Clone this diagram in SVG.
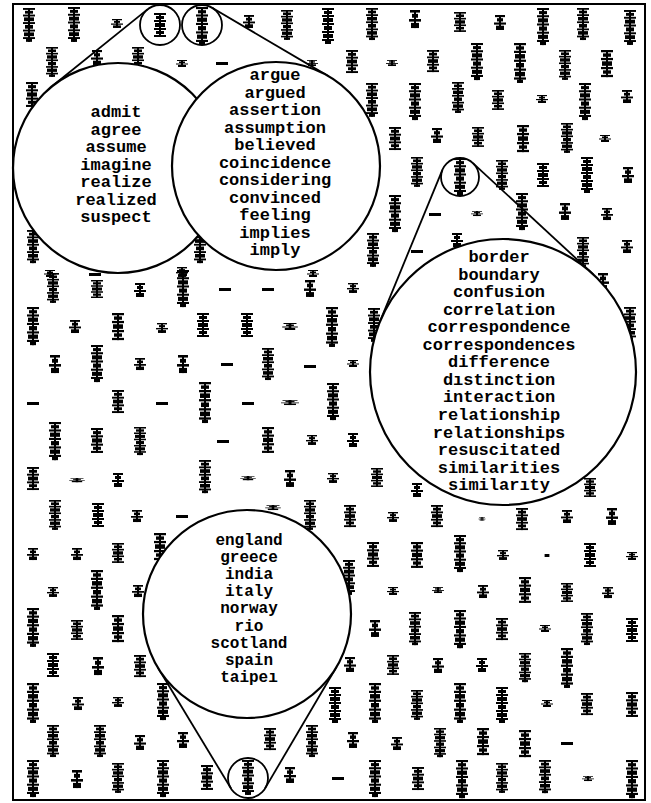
<svg xmlns="http://www.w3.org/2000/svg" width="651" height="803" viewBox="0 0 651 803">
<style>
.frame{fill:#fff;stroke:#000;stroke-width:2}
.big{fill:#fff;stroke:#000;stroke-width:2.2}
.small{fill:none;stroke:#000;stroke-width:1.8}
.conn line{stroke:#000;stroke-width:1.8}
.lbl{font-family:"Liberation Mono","Courier New",monospace;font-weight:bold;font-size:17px;fill:#000;text-anchor:middle}
.lbl2{font-size:16px}
.bg{fill:#000}
</style>
<defs>
<g id="gT"><rect x="-6" y="0" width="12" height="2"/><rect x="-4" y="3" width="8" height="3"/><rect x="-6" y="7" width="12" height="2"/><rect x="-5" y="10" width="10" height="4"/><rect x="-6" y="15" width="12" height="2"/><rect x="-4" y="18" width="8" height="4"/><rect x="-6" y="23" width="12" height="2"/><rect x="-5" y="26" width="10" height="4"/><rect x="-6" y="31" width="12" height="2"/><rect x="-3" y="33" width="6" height="3"/><rect x="-1" y="0" width="2" height="36"/></g>
<g id="gM"><rect x="-6" y="0" width="12" height="2"/><rect x="-4" y="3" width="8" height="3"/><rect x="-6" y="7" width="12" height="2"/><rect x="-5" y="10" width="10" height="4"/><rect x="-6" y="15" width="12" height="2"/><rect x="-4" y="18" width="8" height="3"/><rect x="-6" y="22" width="12" height="2"/><rect x="-1" y="0" width="2" height="24"/></g>
<g id="gS"><rect x="-5" y="0" width="10" height="2"/><rect x="-3" y="3" width="6" height="3"/><rect x="-6" y="7" width="12" height="2"/><rect x="-4" y="10" width="8" height="4"/><rect x="-1" y="0" width="2" height="14"/></g>
<g id="gD"><rect x="-6" y="-1" width="12" height="3"/></g>
</defs>
<rect class="frame" x="13" y="4" width="632" height="796"/>
<g id="background" class="bg">
<use href="#gT" transform="translate(29,8) scale(1,0.94)"/>
<use href="#gT" transform="translate(74,7) scale(1,0.97)"/>
<use href="#gS" transform="translate(117,19) scale(1,0.64)"/>
<use href="#gM" transform="translate(160,13) scale(1,1)"/>
<use href="#gT" transform="translate(202,7) scale(1,1.06)"/>
<use href="#gS" transform="translate(249,15) scale(1,0.93)"/>
<use href="#gT" transform="translate(287,10) scale(1,0.83)"/>
<use href="#gT" transform="translate(328,8) scale(1,1)"/>
<use href="#gT" transform="translate(372,8) scale(1,0.89)"/>
<use href="#gS" transform="translate(415,10) scale(1,1.29)"/>
<use href="#gM" transform="translate(460,12) scale(1,0.83)"/>
<use href="#gS" transform="translate(500,15) scale(1,1.07)"/>
<use href="#gT" transform="translate(543,8) scale(1,1.03)"/>
<use href="#gT" transform="translate(583,8) scale(1,0.89)"/>
<use href="#gT" transform="translate(630,10) scale(1,0.97)"/>
<use href="#gT" transform="translate(52,47) scale(1,0.83)"/>
<use href="#gS" transform="translate(97,50) scale(1,1.07)"/>
<use href="#gM" transform="translate(138,47) scale(1,0.83)"/>
<use href="#gS" transform="translate(182,60) scale(1,0.5)"/>
<use href="#gD" transform="translate(222,63)"/>
<use href="#gS" transform="translate(312,60) scale(1,0.43)"/>
<use href="#gM" transform="translate(352,50) scale(1,0.96)"/>
<use href="#gS" transform="translate(392,60) scale(1,0.43)"/>
<use href="#gM" transform="translate(433,50) scale(1,0.92)"/>
<use href="#gT" transform="translate(477,43) scale(1,1.03)"/>
<use href="#gT" transform="translate(520,43) scale(1,1.11)"/>
<use href="#gT" transform="translate(565,50) scale(1,0.83)"/>
<use href="#gM" transform="translate(607,50) scale(1,1.13)"/>
<use href="#gM" transform="translate(32,82) scale(1,1.04)"/>
<use href="#gT" transform="translate(372,83) scale(1,0.94)"/>
<use href="#gT" transform="translate(415,83) scale(1,1.03)"/>
<use href="#gT" transform="translate(458,82) scale(1,0.86)"/>
<use href="#gM" transform="translate(498,90) scale(1,0.83)"/>
<use href="#gS" transform="translate(542,95) scale(1,0.57)"/>
<use href="#gT" transform="translate(585,83) scale(1,1.03)"/>
<use href="#gS" transform="translate(627,90) scale(1,0.93)"/>
<use href="#gM" transform="translate(395,127) scale(1,0.96)"/>
<use href="#gS" transform="translate(437,128) scale(1,1.07)"/>
<use href="#gM" transform="translate(478,127) scale(1,0.83)"/>
<use href="#gM" transform="translate(523,125) scale(1,1.13)"/>
<use href="#gT" transform="translate(567,123) scale(1,0.83)"/>
<use href="#gS" transform="translate(605,135) scale(1,0.5)"/>
<use href="#gT" transform="translate(417,157) scale(1,0.83)"/>
<use href="#gT" transform="translate(460,158) scale(1,1.03)"/>
<use href="#gT" transform="translate(502,160) scale(1,0.83)"/>
<use href="#gM" transform="translate(543,163) scale(1,1)"/>
<use href="#gT" transform="translate(587,157) scale(1,1)"/>
<use href="#gS" transform="translate(628,167) scale(1,1.14)"/>
<use href="#gT" transform="translate(395,195) scale(1,1.03)"/>
<use href="#gD" transform="translate(435,214)"/>
<use href="#gS" transform="translate(477,211) scale(1,0.36)"/>
<use href="#gT" transform="translate(522,193) scale(1,1.03)"/>
<use href="#gS" transform="translate(565,203) scale(1,1.21)"/>
<use href="#gS" transform="translate(607,208) scale(1,0.86)"/>
<use href="#gT" transform="translate(33,230) scale(1,0.92)"/>
<use href="#gT" transform="translate(200,230) scale(1,0.92)"/>
<use href="#gT" transform="translate(373,233) scale(1,0.94)"/>
<use href="#gD" transform="translate(417,251)"/>
<use href="#gS" transform="translate(457,233) scale(1,1)"/>
<use href="#gS" transform="translate(500,240) scale(1,0.5)"/>
<use href="#gT" transform="translate(583,237) scale(1,0.83)"/>
<use href="#gS" transform="translate(627,240) scale(1,0.93)"/>
<use href="#gS" transform="translate(182,267) scale(1,0.71)"/>
<use href="#gS" transform="translate(50,270) scale(1,0.5)"/>
<use href="#gD" transform="translate(95,274)"/>
<use href="#gS" transform="translate(313,270) scale(1,0.5)"/>
<use href="#gT" transform="translate(53,273) scale(1,0.83)"/>
<use href="#gM" transform="translate(97,280) scale(1,0.75)"/>
<use href="#gS" transform="translate(140,283) scale(1,1)"/>
<use href="#gT" transform="translate(183,270) scale(1,1.03)"/>
<use href="#gD" transform="translate(225,289)"/>
<use href="#gD" transform="translate(268,289)"/>
<use href="#gS" transform="translate(310,280) scale(1,1.21)"/>
<use href="#gS" transform="translate(353,283) scale(1,0.71)"/>
<use href="#gS" transform="translate(603,273) scale(1,1.21)"/>
<use href="#gT" transform="translate(630,307) scale(1,0.92)"/>
<use href="#gT" transform="translate(374,308) scale(1,0.94)"/>
<use href="#gT" transform="translate(33,307) scale(1,1.06)"/>
<use href="#gS" transform="translate(75,320) scale(1,0.93)"/>
<use href="#gM" transform="translate(118,313) scale(1,1.13)"/>
<use href="#gS" transform="translate(162,323) scale(1,0.71)"/>
<use href="#gM" transform="translate(203,313) scale(1,1)"/>
<use href="#gM" transform="translate(247,313) scale(1,1)"/>
<use href="#gS" transform="translate(290,323) scale(1.3,0.5)"/>
<use href="#gT" transform="translate(332,307) scale(1,1.11)"/>
<use href="#gS" transform="translate(55,355) scale(1,1.29)"/>
<use href="#gT" transform="translate(97,345) scale(1,1.03)"/>
<use href="#gS" transform="translate(140,358) scale(1,0.86)"/>
<use href="#gS" transform="translate(183,355) scale(1,1.29)"/>
<use href="#gD" transform="translate(227,364)"/>
<use href="#gT" transform="translate(268,348) scale(1,0.89)"/>
<use href="#gD" transform="translate(310,366)"/>
<use href="#gS" transform="translate(353,360) scale(1,0.5)"/>
<use href="#gD" transform="translate(33,403)"/>
<use href="#gM" transform="translate(118,390) scale(1,0.96)"/>
<use href="#gD" transform="translate(162,403)"/>
<use href="#gT" transform="translate(205,382) scale(1,1.14)"/>
<use href="#gD" transform="translate(248,403)"/>
<use href="#gS" transform="translate(290,400) scale(1.5,0.36)"/>
<use href="#gT" transform="translate(333,383) scale(1,1.03)"/>
<use href="#gT" transform="translate(55,422) scale(1,1.06)"/>
<use href="#gM" transform="translate(97,428) scale(1,1.04)"/>
<use href="#gT" transform="translate(140,427) scale(1,0.78)"/>
<use href="#gD" transform="translate(223,441)"/>
<use href="#gM" transform="translate(268,427) scale(1,1.08)"/>
<use href="#gS" transform="translate(312,435) scale(1,0.71)"/>
<use href="#gS" transform="translate(353,433) scale(1,1)"/>
<use href="#gM" transform="translate(33,467) scale(1,0.96)"/>
<use href="#gS" transform="translate(77,478) scale(1.3,0.3)"/>
<use href="#gS" transform="translate(118,473) scale(1,1)"/>
<use href="#gT" transform="translate(205,460) scale(1,0.92)"/>
<use href="#gS" transform="translate(248,476) scale(1.3,0.3)"/>
<use href="#gS" transform="translate(290,470) scale(1,1.21)"/>
<use href="#gS" transform="translate(333,473) scale(1,0.71)"/>
<use href="#gM" transform="translate(377,468) scale(1,0.79)"/>
<use href="#gS" transform="translate(417,483) scale(1,1)"/>
<use href="#gM" transform="translate(590,478) scale(1,0.79)"/>
<use href="#gT" transform="translate(55,500) scale(1,0.83)"/>
<use href="#gM" transform="translate(98,503) scale(1,1)"/>
<use href="#gS" transform="translate(137,510) scale(1,0.86)"/>
<use href="#gD" transform="translate(182,516)"/>
<use href="#gS" transform="translate(273,505) scale(1.3,0.36)"/>
<use href="#gT" transform="translate(310,500) scale(1,0.83)"/>
<use href="#gM" transform="translate(350,505) scale(1,0.92)"/>
<use href="#gS" transform="translate(393,512) scale(1,0.71)"/>
<use href="#gM" transform="translate(437,505) scale(1,0.92)"/>
<use href="#gS" transform="translate(482,517) scale(0.6,0.25)"/>
<use href="#gM" transform="translate(522,508) scale(1,0.92)"/>
<use href="#gS" transform="translate(567,510) scale(1,0.93)"/>
<use href="#gS" transform="translate(612,508) scale(1,1.21)"/>
<use href="#gS" transform="translate(33,548) scale(1,0.86)"/>
<use href="#gS" transform="translate(77,548) scale(1,0.86)"/>
<use href="#gM" transform="translate(118,543) scale(1,0.83)"/>
<use href="#gM" transform="translate(160,533) scale(1,1.13)"/>
<use href="#gM" transform="translate(373,542) scale(1,1.04)"/>
<use href="#gM" transform="translate(417,542) scale(1,1.08)"/>
<use href="#gT" transform="translate(460,535) scale(1,1.03)"/>
<use href="#gS" transform="translate(503,550) scale(1,0.71)"/>
<use href="#gD" transform="translate(547,555) scale(0.4,1)"/>
<use href="#gM" transform="translate(590,543) scale(1,1)"/>
<use href="#gS" transform="translate(632,552) scale(1,0.57)"/>
<use href="#gT" transform="translate(349,560) scale(1,0.97)"/>
<use href="#gS" transform="translate(53,587) scale(1,0.71)"/>
<use href="#gT" transform="translate(97,570) scale(1,1.11)"/>
<use href="#gS" transform="translate(138,585) scale(1,0.86)"/>
<use href="#gS" transform="translate(393,587) scale(1,0.57)"/>
<use href="#gS" transform="translate(438,587) scale(1,0.43)"/>
<use href="#gS" transform="translate(483,585) scale(1,0.93)"/>
<use href="#gM" transform="translate(525,577) scale(1,1.08)"/>
<use href="#gM" transform="translate(567,583) scale(1,0.79)"/>
<use href="#gS" transform="translate(608,587) scale(1,0.79)"/>
<use href="#gT" transform="translate(33,608) scale(1,1.08)"/>
<use href="#gM" transform="translate(77,620) scale(1,0.83)"/>
<use href="#gM" transform="translate(118,615) scale(1,1.13)"/>
<use href="#gS" transform="translate(375,620) scale(1,1.21)"/>
<use href="#gT" transform="translate(415,612) scale(1,0.92)"/>
<use href="#gT" transform="translate(460,610) scale(1,1.06)"/>
<use href="#gM" transform="translate(502,618) scale(1,0.92)"/>
<use href="#gS" transform="translate(545,625) scale(1,0.5)"/>
<use href="#gT" transform="translate(587,613) scale(1,0.89)"/>
<use href="#gM" transform="translate(632,618) scale(1,1)"/>
<use href="#gM" transform="translate(53,653) scale(1,1)"/>
<use href="#gS" transform="translate(98,657) scale(1,1.29)"/>
<use href="#gM" transform="translate(140,655) scale(1,0.92)"/>
<use href="#gS" transform="translate(350,657) scale(1,1.07)"/>
<use href="#gM" transform="translate(393,655) scale(1,0.83)"/>
<use href="#gS" transform="translate(438,658) scale(1,1.07)"/>
<use href="#gS" transform="translate(482,658) scale(1,1)"/>
<use href="#gT" transform="translate(525,653) scale(1,0.81)"/>
<use href="#gT" transform="translate(567,648) scale(1,1.11)"/>
<use href="#gT" transform="translate(33,683) scale(1,1.11)"/>
<use href="#gS" transform="translate(78,697) scale(1,0.93)"/>
<use href="#gS" transform="translate(118,697) scale(1,0.71)"/>
<use href="#gT" transform="translate(163,683) scale(1,1.03)"/>
<use href="#gT" transform="translate(335,687) scale(1,1)"/>
<use href="#gT" transform="translate(375,683) scale(1,1.11)"/>
<use href="#gT" transform="translate(417,690) scale(1,0.83)"/>
<use href="#gT" transform="translate(460,683) scale(1,1.11)"/>
<use href="#gT" transform="translate(502,687) scale(1,1)"/>
<use href="#gS" transform="translate(547,700) scale(1,0.5)"/>
<use href="#gM" transform="translate(587,693) scale(1,0.92)"/>
<use href="#gM" transform="translate(632,692) scale(1,1.04)"/>
<use href="#gT" transform="translate(53,725) scale(1,0.89)"/>
<use href="#gT" transform="translate(100,725) scale(1,0.89)"/>
<use href="#gS" transform="translate(140,735) scale(1,1.07)"/>
<use href="#gS" transform="translate(183,732) scale(1,1.14)"/>
<use href="#gM" transform="translate(270,728) scale(1,0.92)"/>
<use href="#gT" transform="translate(312,725) scale(1,0.89)"/>
<use href="#gS" transform="translate(353,732) scale(1,1.14)"/>
<use href="#gS" transform="translate(397,737) scale(1,0.93)"/>
<use href="#gT" transform="translate(440,728) scale(1,0.81)"/>
<use href="#gM" transform="translate(483,728) scale(1,1.13)"/>
<use href="#gM" transform="translate(525,730) scale(1,1.13)"/>
<use href="#gD" transform="translate(567,743)"/>
<use href="#gT" transform="translate(33,760) scale(1,1.03)"/>
<use href="#gS" transform="translate(77,770) scale(1,1.29)"/>
<use href="#gT" transform="translate(118,763) scale(1,0.83)"/>
<use href="#gT" transform="translate(163,760) scale(1,1.03)"/>
<use href="#gM" transform="translate(207,765) scale(1,1.04)"/>
<use href="#gT" transform="translate(248,760) scale(1,0.97)"/>
<use href="#gS" transform="translate(290,767) scale(1,1.14)"/>
<use href="#gD" transform="translate(338,778)"/>
<use href="#gT" transform="translate(375,760) scale(1,1.03)"/>
<use href="#gM" transform="translate(418,767) scale(1,0.96)"/>
<use href="#gT" transform="translate(462,760) scale(1,1.06)"/>
<use href="#gT" transform="translate(502,763) scale(1,0.83)"/>
<use href="#gT" transform="translate(545,760) scale(1,0.92)"/>
<use href="#gS" transform="translate(588,776) scale(1,0.36)"/>
<use href="#gT" transform="translate(632,760) scale(1,1.06)"/>
</g>
<g id="connectors" class="conn">
<line x1="147.5" y1="9.4" x2="52.1" y2="86.2"/>
<line x1="212.1" y1="7.8" x2="328.7" y2="76.4"/>
<line x1="442.4" y1="169.8" x2="380.0" y2="321.3"/>
<line x1="472.9" y1="163.1" x2="593.3" y2="274.4"/>
<line x1="230.9" y1="788.3" x2="158.0" y2="667.8"/>
<line x1="265.2" y1="788.1" x2="336.6" y2="666.7"/>
</g>
<g id="node-small-1"><circle class="small" cx="160" cy="25" r="20"/></g>
<g id="node-small-2"><circle class="small" cx="202" cy="25" r="20"/></g>
<g id="node-small-3"><circle class="small" cx="460" cy="177" r="19"/></g>
<g id="node-small-4"><circle class="small" cx="248" cy="778" r="20"/></g>
<g id="node-admit">
<circle class="big" cx="118" cy="168" r="105"/>
<text class="lbl" x="116" y="117">admit</text>
<text class="lbl" x="116" y="134.5">agree</text>
<text class="lbl" x="116" y="152">assume</text>
<text class="lbl" x="116" y="169.5">imagine</text>
<text class="lbl" x="116" y="187">realize</text>
<text class="lbl" x="116" y="204.5">realized</text>
<text class="lbl" x="116" y="222">suspect</text>
</g>
<g id="node-argue">
<circle class="big" cx="276" cy="166" r="104"/>
<text class="lbl" x="275" y="80">argue</text>
<text class="lbl" x="275" y="97.5">argued</text>
<text class="lbl" x="275" y="115">assertion</text>
<text class="lbl" x="275" y="132.5">assumption</text>
<text class="lbl" x="275" y="150">believed</text>
<text class="lbl" x="275" y="167.5">coincidence</text>
<text class="lbl" x="275" y="185">considering</text>
<text class="lbl" x="275" y="202.5">convinced</text>
<text class="lbl" x="275" y="220">feeling</text>
<text class="lbl" x="275" y="237.5">implies</text>
<text class="lbl" x="275" y="255">imply</text>
</g>
<g id="node-border">
<circle class="big" cx="503" cy="372" r="133"/>
<text class="lbl" x="499" y="262">border</text>
<text class="lbl" x="499" y="279.5">boundary</text>
<text class="lbl" x="499" y="297.1">confusion</text>
<text class="lbl" x="499" y="314.6">correlation</text>
<text class="lbl" x="499" y="332.2">correspondence</text>
<text class="lbl" x="499" y="349.7">correspondences</text>
<text class="lbl" x="499" y="367.3">difference</text>
<text class="lbl" x="499" y="384.8">dıstinction</text>
<text class="lbl" x="499" y="402.4">interaction</text>
<text class="lbl" x="499" y="420">relationship</text>
<text class="lbl" x="499" y="437.5">relationships</text>
<text class="lbl" x="499" y="455">resuscitated</text>
<text class="lbl" x="499" y="472.6">similarities</text>
<text class="lbl" x="499" y="490">similarıty</text>
</g>
<g id="node-england">
<circle class="big" cx="247" cy="614" r="104"/>
<text class="lbl lbl2" x="249" y="545">england</text>
<text class="lbl lbl2" x="249" y="562.1">greece</text>
<text class="lbl lbl2" x="249" y="579.2">india</text>
<text class="lbl lbl2" x="249" y="596.3">italy</text>
<text class="lbl lbl2" x="249" y="613.4">norway</text>
<text class="lbl lbl2" x="249" y="630.5">rio</text>
<text class="lbl lbl2" x="249" y="647.6">scotland</text>
<text class="lbl lbl2" x="249" y="664.7">spain</text>
<text class="lbl lbl2" x="249" y="681.8">taipeı</text>
</g>
</svg>
